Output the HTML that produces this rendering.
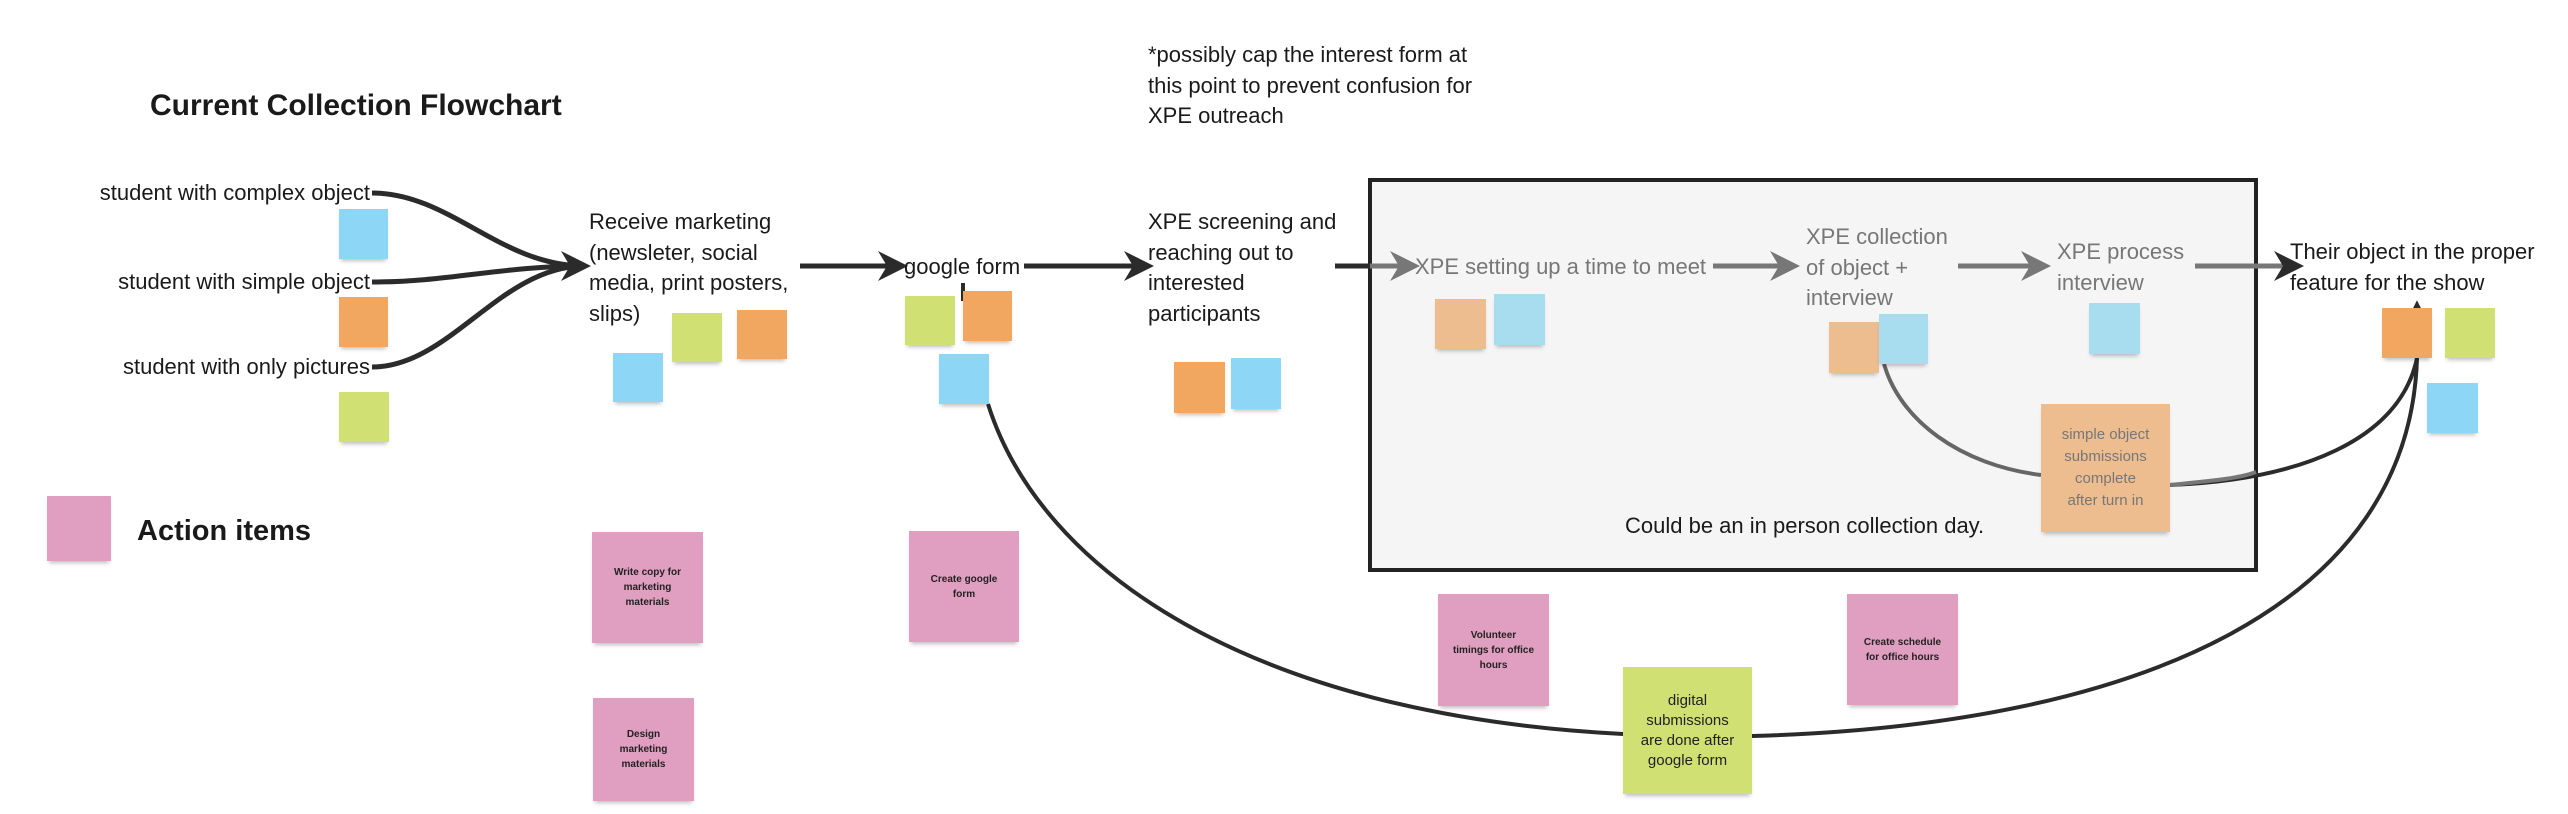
<!DOCTYPE html>
<html><head><meta charset="utf-8">
<style>
body{margin:0;width:2568px;height:814px;background:#fff;position:relative;overflow:hidden;font-family:"Liberation Sans",sans-serif;color:#1a1a1a}
.t{position:absolute;font-size:22px;line-height:30.5px;white-space:nowrap}
.s{position:absolute;box-shadow:0 4px 4px -2px rgba(0,0,0,.25)}
.b{background:#8ed6f6}.o{background:#f2a761}.g{background:#d1e073}.p{background:#e09ec0}.lo{background:#edbd8f}.lb{background:#a8ddf0}
.pt{display:flex;align-items:center;justify-content:center;text-align:center;font-size:10px;font-weight:bold;line-height:15px;color:#222}
</style></head><body>
<div style="position:absolute;left:1368px;top:178px;width:882px;height:386px;background:#f5f5f5;border:4px solid #222"></div>
<svg width="2568" height="814" style="position:absolute;left:0;top:0">
<defs>
<marker id="a" viewBox="0 0 10 10" refX="8" refY="5" markerWidth="6" markerHeight="6" orient="auto"><path d="M0,0 L10,5 L0,10 L3,5z" fill="#2b2b2b"/></marker>
<marker id="ag" viewBox="0 0 10 10" refX="8" refY="5" markerWidth="6" markerHeight="6" orient="auto"><path d="M0,0 L10,5 L0,10 L3,5z" fill="#777"/></marker>
</defs>
<g fill="none" stroke="#2b2b2b" stroke-width="5">
<path d="M372 193 C450 193,500 266,585 266" marker-end="url(#a)"/>
<path d="M372 282 C450 282,500 266,585 266"/>
<path d="M372 367 C450 367,500 266,585 266"/>
<path d="M800 266 L902 266" marker-end="url(#a)"/>
<path d="M1024 266 L1148 266" marker-end="url(#a)"/>
<path d="M1335 266 L1370 266"/>
<path d="M2195 266 L2298 266" stroke="#777" marker-end="url(#a)"/>
</g>
<g fill="none" stroke="#777" stroke-width="5">
<path d="M1370 266 L1414 266" marker-end="url(#ag)"/>
<path d="M1713 266 L1794 266" marker-end="url(#ag)"/>
<path d="M1958 266 L2045 266" marker-end="url(#ag)"/>
</g>
<g fill="none" stroke="#2b2b2b" stroke-width="4">
<path d="M963 283 L963 301"/>
<path d="M988 404 C1040 570,1250 715,1623 734"/>
<path d="M1752 736 C2150 725,2410 600,2417 358"/>
<path d="M2170 485 C2300 480,2400 440,2417 358"/>
<path d="M2417 358 L2417 305" marker-end="url(#a)"/>
</g>
<path d="M1884 364 C1900 420,1960 465,2041 475" fill="none" stroke="#666" stroke-width="4"/>
<path d="M2170 485 C2220 480,2240 478,2256 472" fill="none" stroke="#777" stroke-width="4"/>
</svg>
<div class="t" style="left:150px;top:91px;font-size:30px;font-weight:bold">Current Collection Flowchart</div>
<div class="t" style="left:137px;top:516px;font-size:29px;font-weight:bold">Action items</div>
<div class="t" style="right:2198px;top:178px">student with complex object</div>
<div class="t" style="right:2198px;top:267px">student with simple object</div>
<div class="t" style="right:2198px;top:352px">student with only pictures</div>
<div class="t" style="left:589px;top:207px">Receive marketing<br>(newsleter, social<br>media, print posters,<br>slips)</div>
<div class="t" style="left:904px;top:252px">google form</div>
<div class="t" style="left:1148px;top:207px">XPE screening and<br>reaching out to<br>interested<br>participants</div>
<div class="t" style="left:1148px;top:40px">*possibly cap the interest form at<br>this point to prevent confusion for<br>XPE outreach</div>
<div class="t" style="left:1415px;top:252px;color:#777">XPE setting up a time to meet</div>
<div class="t" style="left:1806px;top:222px;color:#777">XPE collection<br>of object +<br>interview</div>
<div class="t" style="left:2057px;top:237px;color:#777">XPE process<br>interview</div>
<div class="t" style="left:2290px;top:237px">Their object in the proper<br>feature for the show</div>
<div class="t" style="left:1625px;top:511px">Could be an in person collection day.</div>

<div class="s b" style="left:339px;top:209px;width:49px;height:50px"></div>
<div class="s o" style="left:339px;top:297px;width:49px;height:50px"></div>
<div class="s g" style="left:339px;top:392px;width:50px;height:50px"></div>
<div class="s b" style="left:613px;top:353px;width:50px;height:49px"></div>
<div class="s g" style="left:672px;top:313px;width:50px;height:49px"></div>
<div class="s o" style="left:737px;top:310px;width:50px;height:49px"></div>
<div class="s g" style="left:905px;top:296px;width:50px;height:49px"></div>
<div class="s o" style="left:963px;top:291px;width:49px;height:50px"></div>
<div class="s b" style="left:939px;top:354px;width:50px;height:50px"></div>
<div class="s o" style="left:1174px;top:362px;width:51px;height:51px"></div>
<div class="s b" style="left:1231px;top:358px;width:50px;height:51px"></div>
<div class="s lo" style="left:1435px;top:299px;width:51px;height:50px"></div>
<div class="s lb" style="left:1494px;top:294px;width:51px;height:51px"></div>
<div class="s lo" style="left:1829px;top:322px;width:50px;height:51px"></div>
<div class="s lb" style="left:1879px;top:314px;width:49px;height:50px"></div>
<div class="s lb" style="left:2089px;top:303px;width:51px;height:51px"></div>
<div class="s lo pt" style="left:2041px;top:404px;width:129px;height:128px;font-size:15px;font-weight:normal;line-height:22px;color:#777">simple object<br>submissions<br>complete<br>after turn in</div>
<div class="s o" style="left:2382px;top:308px;width:50px;height:50px"></div>
<div class="s g" style="left:2445px;top:308px;width:50px;height:50px"></div>
<div class="s b" style="left:2427px;top:383px;width:51px;height:50px"></div>

<div class="s p" style="left:47px;top:496px;width:64px;height:65px"></div>
<div class="s p pt" style="left:592px;top:532px;width:111px;height:111px">Write copy for<br>marketing<br>materials</div>
<div class="s p pt" style="left:593px;top:698px;width:101px;height:103px">Design<br>marketing<br>materials</div>
<div class="s p pt" style="left:909px;top:531px;width:110px;height:111px">Create google<br>form</div>
<div class="s p pt" style="left:1438px;top:594px;width:111px;height:112px">Volunteer<br>timings for office<br>hours</div>
<div class="s p pt" style="left:1847px;top:594px;width:111px;height:111px">Create schedule<br>for office hours</div>
<div class="s g pt" style="left:1623px;top:667px;width:129px;height:127px;font-size:15px;font-weight:normal;line-height:20px">digital<br>submissions<br>are done after<br>google form</div>
</body></html>
